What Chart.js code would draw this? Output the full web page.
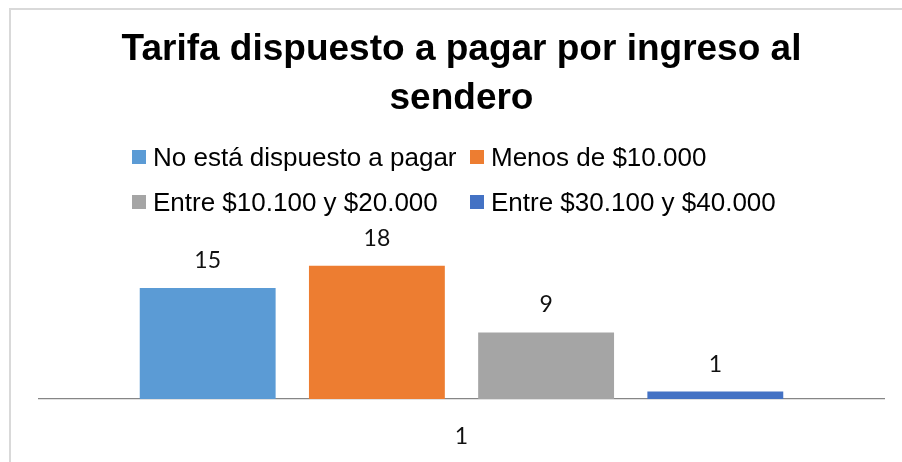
<!DOCTYPE html>
<html>
<head>
<meta charset="utf-8">
<script src="https://cdn.jsdelivr.net/npm/chart.js@4/dist/chart.umd.min.js"></script>
<style>
  html, body { margin: 0; padding: 0; background: #ffffff; }
  #wrap { width: 902px; height: 462px; position: relative; }
</style>
</head>
<body>
<div id="wrap"><canvas id="c" width="902" height="462"></canvas></div>
<script>
// Survey results: fee respondents are willing to pay to enter the trail
const categories = ['1'];
const seriesNames = [
  'No está dispuesto a pagar',
  'Menos de $10.000',
  'Entre $10.100 y $20.000',
  'Entre $30.100 y $40.000'
];
const noPaga = [15];
const menos10000 = [18];
const entre10y20 = [9];
const entre30y40 = [1];
const seriesColors = ['#5B9BD5', '#ED7D31', '#A5A5A5', '#4472C4'];
const titleLines = ['Tarifa dispuesto a pagar por ingreso al', 'sendero'];

const seriesValues = [noPaga, menos10000, entre10y20, entre30y40];

// Thin light frame around the chart
const framePlugin = {
  id: 'frame',
  beforeDraw(chart) {
    const ctx = chart.ctx;
    ctx.save();
    ctx.fillStyle = '#ffffff';
    ctx.fillRect(0, 0, chart.width, chart.height);
    ctx.strokeStyle = '#d9d9d9';
    ctx.lineWidth = 2;
    ctx.strokeRect(10, 9, 2000, 2000);
    ctx.restore();
  }
};

// Two-column legend, items aligned in columns
const gridLegendPlugin = {
  id: 'gridLegend',
  afterDraw(chart) {
    const ctx = chart.ctx;
    const cols = [132, 470];
    const rows = [157, 202];
    const box = 14;
    ctx.save();
    ctx.font = '26px "Liberation Sans", Arial, sans-serif';
    ctx.textBaseline = 'alphabetic';
    ctx.textAlign = 'left';
    chart.data.datasets.forEach((ds, i) => {
      const x = cols[i % 2];
      const yc = rows[Math.floor(i / 2)];
      ctx.fillStyle = ds.backgroundColor;
      ctx.fillRect(x, yc - box / 2, box, box);
      ctx.fillStyle = '#000000';
      ctx.fillText(ds.label, x + 21, yc + 8.5);
    });
    ctx.restore();
  }
};

// Value labels above each bar
const valueLabelPlugin = {
  id: 'valueLabels',
  afterDatasetsDraw(chart) {
    const ctx = chart.ctx;
    ctx.save();
    ctx.font = '23px Lato, "Open Sans", sans-serif';
    ctx.fillStyle = '#111111';
    ctx.textAlign = 'center';
    ctx.textBaseline = 'alphabetic';
    chart.data.datasets.forEach((ds, i) => {
      const meta = chart.getDatasetMeta(i);
      meta.data.forEach((bar, j) => {
        ctx.fillText(String(ds.data[j]), bar.x, bar.y - 20);
      });
    });
    ctx.restore();
  }
};

new Chart(document.getElementById('c'), {
  type: 'bar',
  data: {
    labels: categories,
    datasets: seriesNames.map((name, i) => ({
      label: name,
      data: seriesValues[i],
      backgroundColor: seriesColors[i],
      borderWidth: 0,
      categoryPercentage: 0.801,
      barPercentage: 0.803
    }))
  },
  options: {
    responsive: false,
    animation: false,
    devicePixelRatio: 1,
    layout: { padding: { left: 39, right: 18, top: 0, bottom: 0 } },
    plugins: {
      legend: { display: false },
      tooltip: { enabled: false },
      title: {
        display: true,
        text: titleLines,
        color: '#000000',
        font: { family: '"Liberation Sans", Arial, sans-serif', size: 37, weight: 'bold', lineHeight: 1.33 },
        padding: { top: 25, bottom: 127.6 }
      }
    },
    scales: {
      x: {
        grid: { display: false, drawTicks: false },
        border: { display: true, color: '#868686', width: 1.3 },
        ticks: {
          color: '#111111',
          padding: 24,
          font: { family: 'Lato, "Open Sans", sans-serif', size: 23 }
        },
        afterFit(scale) { scale.height = 63; }
      },
      y: {
        display: false,
        min: 0,
        max: 20
      }
    }
  },
  plugins: [framePlugin, gridLegendPlugin, valueLabelPlugin]
});
</script>
</body>
</html>
